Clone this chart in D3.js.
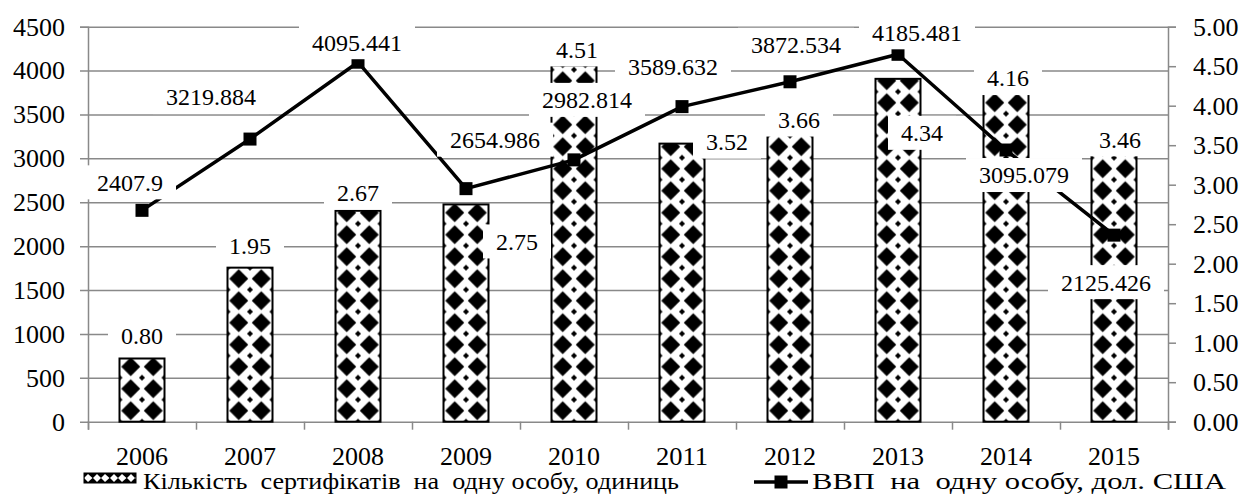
<!DOCTYPE html>
<html>
<head>
<meta charset="utf-8">
<script src="https://cdn.jsdelivr.net/npm/d3@7"></script>
<style>
  body { margin: 0; background: #fff; }
</style>
</head>
<body>
<svg id="chart" width="1242" height="496" font-family="Liberation Serif"></svg>
<script>
// data
var years = ["2006", "2007", "2008", "2009", "2010", "2011", "2012", "2013", "2014", "2015"];
var certificates = [0.80, 1.95, 2.67, 2.75, 4.51, 3.52, 3.66, 4.34, 4.16, 3.46];
var gdp = [2407.9, 3219.884, 4095.441, 2654.986, 2982.814, 3589.632, 3872.534, 4185.481, 3095.079, 2125.426];
var leftTicks = [0, 500, 1000, 1500, 2000, 2500, 3000, 3500, 4000, 4500];
var rightTicks = [0, 0.5, 1, 1.5, 2, 2.5, 3, 3.5, 4, 4.5, 5];
var legendNames = ["Кількість  сертифікатів  на  одну особу, одиниць", "ВВП  на  одну особу, дол. США"];

// label nudges (px) relative to the mark
var barLabelShift = [[0, -23], [0, -22], [0, -18], [51, 37], [3, -16], [45, -2], [9, -13], [24, 54], [2, -15], [6, -9]];
var lineLabelShift = [[-12, -28], [-39, -42], [-1, -20], [29, -49], [13, -60], [-9, -40], [6, -37], [19, -22], [18, 25], [-8, 47]];

var X0 = 88, X1 = 1168, Y0 = 421.7, Y1 = 26.7;
var GRID = "#898989";
var FONT = "Liberation Serif";

// width of a number in Times-like metrics (digits 0.5em, point 0.25em)
function numWidth(s, size) {
    var w = 0;
    for (var k = 0; k < s.length; k++) w += (s[k] === "." ? 0.25 : 0.5);
    return w * size;
}

var svg = d3.select("#chart");

var x = d3.scaleBand().domain(years).range([X0, X1]);
var xEdge = d3.scaleLinear().domain([0, years.length]).range([X0, X1]);
var yL = d3.scaleLinear().domain([0, 4500]).range([Y0, Y1]);
var yR = d3.scaleLinear().domain([0, 5]).range([Y0, Y1]);
var barW = 45;

function diamond(cx, cy, r) {
    return "M" + cx + "," + (cy - r) + "L" + (cx + r) + "," + cy + "L" + cx + "," + (cy + r) + "L" + (cx - r) + "," + cy + "Z";
}

// patterns, one per bar so the diamonds sit the same way in every bar
var defs = svg.append("defs");
years.forEach(function(d, i) {
    var pw = barW / 2, ph = 22;
    var p = defs.append("pattern")
        .attr("id", "pat" + i)
        .attr("patternUnits", "userSpaceOnUse")
        .attr("x", x(d) + x.bandwidth() / 2 - barW / 2)
        .attr("y", Y0)
        .attr("width", pw)
        .attr("height", ph);
    p.append("rect").attr("width", pw).attr("height", ph).attr("fill", "#fff");
    p.append("path").attr("d", diamond(pw / 2, ph / 2, 9.5)).attr("fill", "#000");
    [[0, 0], [pw, 0], [0, ph], [pw, ph]].forEach(function(c) {
        p.append("path").attr("d", diamond(c[0], c[1], 3)).attr("fill", "#000");
    });
});
// legend pattern
var lp = defs.append("pattern").attr("id", "patLeg").attr("patternUnits", "userSpaceOnUse")
    .attr("x", 84).attr("y", 473).attr("width", 17).attr("height", 10);
lp.append("rect").attr("width", 17).attr("height", 10).attr("fill", "#000");
lp.append("path").attr("d", "M4,1L8.5,5L4,9L0,5Z M13,1L17,5L13,9L9,5Z").attr("fill", "#fff");

function fixText(sel, size) {
    sel.attr("font-size", size).style("font-family", FONT)
        .attr("textLength", function() { return numWidth(this.textContent, size); })
        .attr("lengthAdjust", "spacingAndGlyphs");
}

// gridlines + left axis
var gl = svg.append("g").attr("transform", "translate(" + X0 + ",0)")
    .call(d3.axisLeft(yL).tickValues(leftTicks).tickSize(8).tickPadding(15).tickFormat(d3.format("d")));
gl.attr("font-family", null);
gl.select(".domain").attr("stroke", GRID).attr("stroke-width", 1.5);
gl.selectAll(".tick line").attr("stroke", GRID).attr("stroke-width", 1.5)
    .attr("x1", function(d) { return d === 0 ? -8 : X1 - X0; }).attr("x2", -8);
fixText(gl.selectAll(".tick text"), 26);

// right axis
var gr = svg.append("g").attr("transform", "translate(" + X1 + ",0)")
    .call(d3.axisRight(yR).tickValues(rightTicks).tickSize(8).tickPadding(17).tickFormat(d3.format(".2f")));
gr.attr("font-family", null);
gr.select(".domain").attr("stroke", GRID).attr("stroke-width", 1.5);
gr.selectAll(".tick line").attr("stroke", GRID).attr("stroke-width", 1.5);
fixText(gr.selectAll(".tick text"), 26);

// bottom axis: ticks at category edges, labels in the middle
var gb = svg.append("g").attr("transform", "translate(0," + Y0 + ")")
    .call(d3.axisBottom(xEdge).tickValues(d3.range(years.length + 1)).tickSize(8).tickFormat(""));
gb.select(".domain").attr("stroke", GRID).attr("stroke-width", 1.5);
gb.selectAll(".tick line").attr("stroke", GRID).attr("stroke-width", 1.5);
var gbl = svg.append("g").attr("transform", "translate(0," + Y0 + ")")
    .call(d3.axisBottom(x).tickSize(0).tickPadding(0));
gbl.attr("font-family", null);
gbl.select(".domain").remove();
fixText(gbl.selectAll(".tick text").attr("y", 43).attr("dy", null), 26);

// bars (right axis)
svg.append("g").selectAll("rect").data(certificates).enter().append("rect")
    .attr("x", function(d, i) { return x(years[i]) + x.bandwidth() / 2 - barW / 2; })
    .attr("y", function(d) { return yR(d); })
    .attr("width", barW)
    .attr("height", function(d) { return Y0 - yR(d); })
    .attr("fill", function(d, i) { return "url(#pat" + i + ")"; })
    .attr("stroke", "#000").attr("stroke-width", 2);

// line (left axis)
var line = d3.line()
    .x(function(d, i) { return x(years[i]) + x.bandwidth() / 2; })
    .y(function(d) { return yL(d); });
svg.append("path").datum(gdp).attr("d", line)
    .attr("fill", "none").attr("stroke", "#000").attr("stroke-width", 3.5).attr("stroke-linejoin", "round");
svg.append("g").selectAll("rect").data(gdp).enter().append("rect")
    .attr("x", function(d, i) { return x(years[i]) + x.bandwidth() / 2 - 6.5; })
    .attr("y", function(d) { return yL(d) - 6.5; })
    .attr("width", 13).attr("height", 13).attr("fill", "#000");

// data labels with white boxes
function addLabel(cx, cy, txt) {
    var g = svg.append("g");
    var w = numWidth(txt, 24);
    g.append("rect").attr("x", cx - w / 2 - 13).attr("y", cy - 17)
        .attr("width", w + 26).attr("height", 34).attr("fill", "#fff");
    g.append("text").attr("x", cx).attr("y", cy).attr("dy", "0.35em")
        .attr("text-anchor", "middle").attr("font-size", 24).style("font-family", FONT)
        .attr("textLength", w).attr("lengthAdjust", "spacingAndGlyphs").text(txt);
}
certificates.forEach(function(d, i) {
    addLabel(x(years[i]) + x.bandwidth() / 2 + barLabelShift[i][0], yR(d) + barLabelShift[i][1], d3.format(".2f")(d));
});
gdp.forEach(function(d, i) {
    addLabel(x(years[i]) + x.bandwidth() / 2 + lineLabelShift[i][0], yL(d) + lineLabelShift[i][1], String(d));
});

// legend
svg.append("rect").attr("x", 84).attr("y", 473).attr("width", 52).attr("height", 10)
    .attr("fill", "url(#patLeg)").attr("stroke", "#000").attr("stroke-width", 1);
svg.append("text").attr("x", 143).attr("y", 489).attr("font-size", 23).style("font-family", FONT)
    .style("white-space", "pre").attr("textLength", 536).attr("lengthAdjust", "spacingAndGlyphs")
    .text(legendNames[0]);
svg.append("line").attr("x1", 754).attr("x2", 808).attr("y1", 482).attr("y2", 482)
    .attr("stroke", "#000").attr("stroke-width", 3.5);
svg.append("rect").attr("x", 774.5).attr("y", 475.5).attr("width", 13).attr("height", 13).attr("fill", "#000");
svg.append("text").attr("x", 812).attr("y", 489).attr("font-size", 23).style("font-family", FONT)
    .style("white-space", "pre").attr("textLength", 414).attr("lengthAdjust", "spacingAndGlyphs")
    .text(legendNames[1]);
</script>
</body>
</html>
